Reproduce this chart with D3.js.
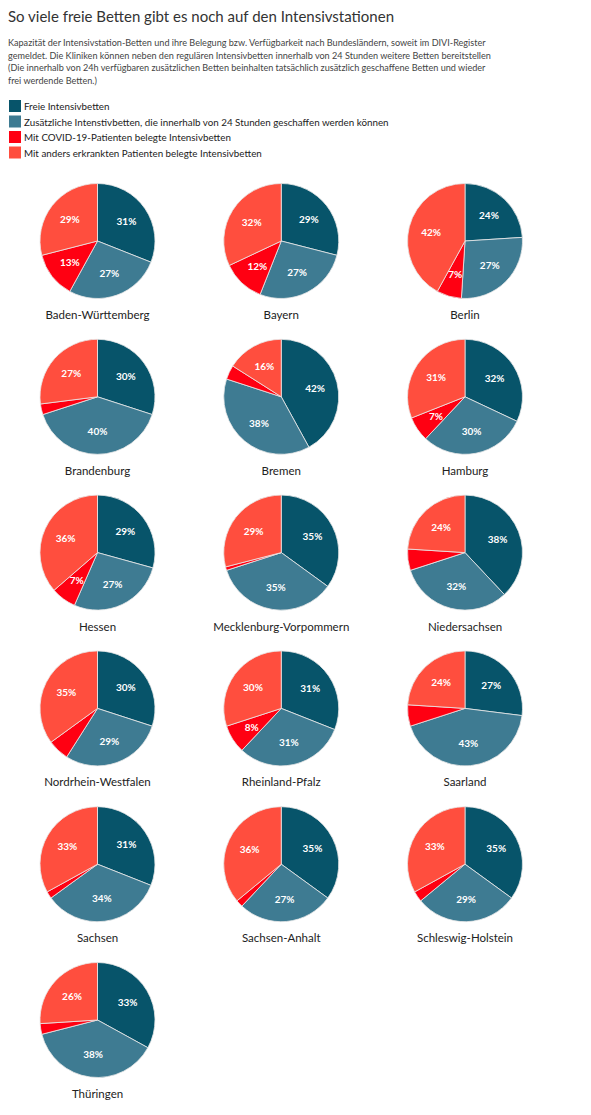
<!DOCTYPE html>
<html><head><meta charset="utf-8">
<script src="https://cdn.jsdelivr.net/npm/d3@7"></script>
<style>body{margin:0;background:#fff;} svg{display:block;font-family:Lato,"Open Sans",sans-serif;}</style>
</head><body><div id="chart"></div>
<script>
const states = ["Baden-Württemberg","Bayern","Berlin","Brandenburg","Bremen","Hamburg","Hessen","Mecklenburg-Vorpommern","Niedersachsen","Nordrhein-Westfalen","Rheinland-Pfalz","Saarland","Sachsen","Sachsen-Anhalt","Schleswig-Holstein","Thüringen"];
const freie       = [31,29,24,30,42,32,29,35,38,30,31,27,31,35,35,33];
const zusaetzlich = [27,27,27,40,38,30,27,35,32,29,31,43,34,27,29,38];
const covid       = [13,12, 7, 3, 4, 7, 7, 1, 6, 6, 8, 6, 2, 2, 3, 3];
const anders      = [29,32,42,27,16,31,36,29,24,35,30,24,33,36,33,26];
const seriesNames = ["Freie Intensivbetten","Zusätzliche Intenstivbetten, die innerhalb von 24 Stunden geschaffen werden können","Mit COVID-19-Patienten belegte Intensivbetten","Mit anders erkrankten Patienten belegte Intensivbetten"];
const colors = ["#07546a","#3e7b92","#ff0012","#ff4e3e"];
const titleText = "So viele freie Betten gibt es noch auf den Intensivstationen";
const subtitleLines = [
 "Kapazität der Intensivstation-Betten und ihre Belegung bzw. Verfügbarkeit nach Bundesländern, soweit im DIVI-Register",
 "gemeldet. Die Kliniken können neben den regulären Intensivbetten innerhalb von 24 Stunden weitere Betten bereitstellen",
 "(Die innerhalb von 24h verfügbaren zusätzlichen Betten beinhalten tatsächlich zusätzlich geschaffene Betten und wieder",
 "frei werdende Betten.)"];

const W = 591, H = 1115;
const svg = d3.select("#chart").append("svg").attr("width", W).attr("height", H);

svg.append("text").attr("x", 8).attr("y", 22).attr("fill", "#333")
  .style("font-size", "15px").text(titleText);
svg.append("g").selectAll("text").data(subtitleLines).join("text")
  .attr("x", 8).attr("y", (d, i) => 46 + i * 12.6).attr("fill", "#444")
  .style("font-size", "9.1px").text(d => d);

const leg = svg.append("g").selectAll("g").data(seriesNames).join("g")
  .attr("transform", (d, i) => `translate(9,${100 + i * 15.5})`);
leg.append("rect").attr("width", 12).attr("height", 12).attr("fill", (d, i) => colors[i]);
leg.append("text").attr("x", 15).attr("y", 10).attr("fill", "#222")
  .style("font-size", "9.8px").text(d => d);

const col = d3.scalePoint().domain([0, 1, 2]).range([97.5, 465]);
const row = d3.scaleLinear().domain([0, 1]).range([241, 396.8]);
const r = 57.5;
const pie = d3.pie().sort(null).value(d => d.v);
const arc = d3.arc().innerRadius(0).outerRadius(r);
const labelArc = d3.arc().innerRadius(35).outerRadius(35);

const data = states.map((s, i) => ({
  name: s,
  vals: [freie[i], zusaetzlich[i], covid[i], anders[i]].map((v, k) => ({v, k}))
}));

const g = svg.append("g").selectAll("g").data(data).join("g")
  .attr("transform", (d, i) => `translate(${col(i % 3)},${row(Math.floor(i / 3))})`);

g.each(function(d) {
  const sel = d3.select(this);
  const total = d3.sum(d.vals, e => e.v);
  const arcs = pie(d.vals);
  sel.selectAll("path").data(arcs).join("path")
    .attr("d", arc).attr("fill", a => colors[a.data.k])
    .attr("stroke", "#e8e8e8").attr("stroke-width", 0.8);
  sel.selectAll("text.pct").data(arcs.filter(a => a.data.v / total >= 0.065)).join("text")
    .attr("class", "pct")
    .attr("transform", a => `translate(${labelArc.centroid(a)})`)
    .attr("text-anchor", "middle").attr("dy", "0.35em")
    .attr("fill", "#fff").style("font-size", "10px").style("font-weight", "bold")
    .text(a => Math.round(a.data.v / total * 100) + "%");
  sel.append("text").attr("y", 78).attr("text-anchor", "middle")
    .attr("fill", "#222").style("font-size", "11.5px").text(d.name);
});
</script></body></html>
